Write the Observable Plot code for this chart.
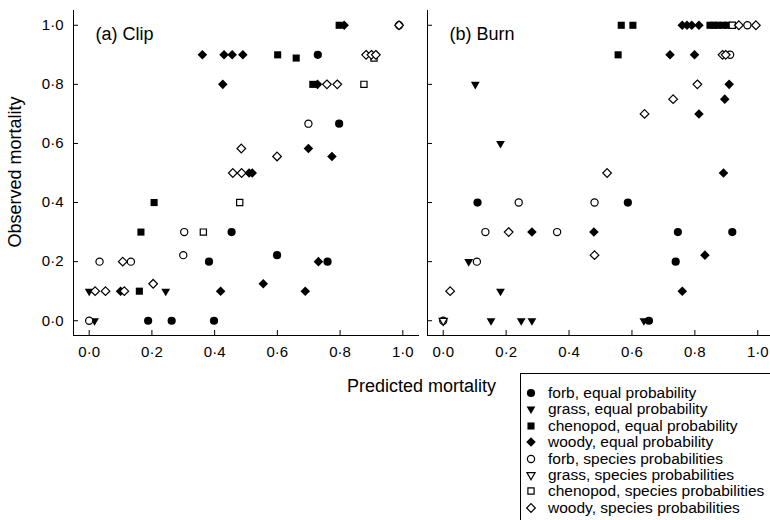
<!DOCTYPE html>
<html><head><meta charset="utf-8">
<script src="https://cdn.jsdelivr.net/npm/d3@7"></script>
<script src="https://cdn.jsdelivr.net/npm/@observablehq/plot@0.6"></script>
<style>
html,body{margin:0;padding:0;background:#fff;overflow:hidden;}
#wrap{position:relative;width:770px;height:520px;font-family:Arial,"Liberation Sans",sans-serif;color:#000;}
#wrap svg.plot{position:absolute;top:0;}
.title{position:absolute;font-size:18px;line-height:18px;white-space:nowrap;}
#legend{position:absolute;left:520px;top:373px;width:260px;height:160px;border:1px solid #000;box-sizing:border-box;}
.row{position:absolute;left:0;height:16px;font-size:15.5px;line-height:16px;white-space:nowrap;}
.row svg{position:absolute;left:2px;top:0;}
.row span{position:absolute;left:27px;top:0;}
</style></head><body><div id="wrap"></div>
<script>
// ---- tick values / labels ----
const tickValues = [0, 0.2, 0.4, 0.6, 0.8, 1.0];
const panelTitles = ["(a) Clip", "(b) Burn"];
const xTitle = "Predicted mortality";
const yTitle = "Observed mortality";
const seriesLabels = [
  "forb, equal probability",
  "grass, equal probability",
  "chenopod, equal probability",
  "woody, equal probability",
  "forb, species probabilities",
  "grass, species probabilities",
  "chenopod, species probabilities",
  "woody, species probabilities"
];

// ---- (a) Clip : [predicted, observed] ----
const clipForbEqual = [[0.188,0],[0.263,0],[0.398,0],[0.382,0.2],[0.599,0.222],[0.76,0.2],[0.454,0.3],[0.797,0.667],[0.729,0.9]];
const clipGrassEqual = [[0.0,0.1],[0.244,0.1],[0.017,0.0]];
const clipChenopodEqual = [[0.16,0.1],[0.165,0.3],[0.207,0.4],[0.713,0.8],[0.601,0.9],[0.66,0.889],[0.797,1.0]];
const clipWoodyEqual = [[0.1,0.1],[0.419,0.1],[0.689,0.1],[0.555,0.125],[0.731,0.2],[0.51,0.5],[0.52,0.5],[0.699,0.583],[0.774,0.556],[0.426,0.8],[0.728,0.8],[0.361,0.9],[0.43,0.9],[0.456,0.9],[0.49,0.9],[0.813,1.0]];
const clipForbSpecies = [[0.0,0.0],[0.033,0.2],[0.133,0.2],[0.3,0.222],[0.303,0.3],[0.699,0.667],[0.988,1.0]];
const clipGrassSpecies = [];
const clipChenopodSpecies = [[0.364,0.3],[0.48,0.4],[0.876,0.8],[0.908,0.889]];
const clipWoodySpecies = [[0.019,0.1],[0.052,0.1],[0.112,0.1],[0.204,0.125],[0.107,0.2],[0.458,0.5],[0.486,0.5],[0.485,0.583],[0.599,0.556],[0.758,0.8],[0.791,0.8],[0.883,0.9],[0.9,0.9],[0.914,0.9],[0.988,1.0]];

// ---- (b) Burn : [predicted, observed] ----
const burnForbEqual = [[0.654,0.0],[0.739,0.2],[0.746,0.3],[0.919,0.3],[0.109,0.4],[0.587,0.4]];
const burnGrassEqual = [[0.152,0],[0.248,0],[0.282,0],[0.638,0],[0.182,0.1],[0.081,0.2],[0.182,0.6],[0.102,0.8]];
const burnChenopodEqual = [[0.556,0.9],[0.566,1.0],[0.603,1.0],[0.848,1.0],[0.86,1.0],[0.873,1.0],[0.889,1.0],[0.903,1.0]];
const burnWoodyEqual = [[0.76,0.1],[0.832,0.222],[0.282,0.3],[0.479,0.3],[0.891,0.5],[0.813,0.7],[0.895,0.75],[0.909,0.8],[0.721,0.9],[0.799,0.9],[0.76,1.0],[0.775,1.0],[0.79,1.0],[0.813,1.0]];
const burnForbSpecies = [[0.0,0.0],[0.107,0.2],[0.134,0.3],[0.362,0.3],[0.24,0.4],[0.481,0.4],[0.912,0.9],[0.967,1.0]];
const burnGrassSpecies = [[0.0,0.0]];
const burnChenopodSpecies = [[0.919,1.0]];
const burnWoodySpecies = [[0.022,0.1],[0.481,0.222],[0.208,0.3],[0.521,0.5],[0.64,0.7],[0.731,0.75],[0.808,0.8],[0.888,0.9],[0.898,0.9],[0.94,1.0],[0.994,1.0]];

const clipSeries = [clipForbEqual, clipGrassEqual, clipChenopodEqual, clipWoodyEqual, clipForbSpecies, clipGrassSpecies, clipChenopodSpecies, clipWoodySpecies];
const burnSeries = [burnForbEqual, burnGrassEqual, burnChenopodEqual, burnWoodyEqual, burnForbSpecies, burnGrassSpecies, burnChenopodSpecies, burnWoodySpecies];

// ---- symbols ----
const triangleDown = {
  draw(ctx, size) {
    const s = Math.sqrt(size) * 0.6824, t = s / 2, u = s * Math.sqrt(3) / 2;
    ctx.moveTo(0, s); ctx.lineTo(u, -t); ctx.lineTo(-u, -t); ctx.closePath();
  }
};
const shapeTypes = [d3.symbolCircle, triangleDown, d3.symbolSquare, d3.symbolDiamond2];
const shapeR = [4.1, 4.2, 4.0, 4.3];
const shapeROpen = [3.6, 3.9, 3.5, 3.9];

const fmt = d => d3.format(".1f")(d).replace(".", "\u00b7");
const FONT = "Arial, 'Liberation Sans', sans-serif";

function makePanel(series, title, showYLabels, width, marginLeft, marginRight) {
  const marks = [];
  // inward tick stubs
  marks.push(Plot.ruleX(tickValues, {x: d => d, insetTop: 320, stroke: "#000", strokeWidth: 1}));
  marks.push(Plot.ruleY(tickValues, {y: d => d, insetRight: width - marginLeft - marginRight - 5, stroke: "#000", strokeWidth: 1}));
  series.forEach((data, i) => {
    const k = i % 4, filled = i < 4;
    marks.push(Plot.dot(data, {
      x: d => d[0], y: d => d[1],
      symbol: shapeTypes[k],
      r: filled ? shapeR[k] : shapeROpen[k],
      fill: filled ? "#000" : "#fff",
      stroke: filled ? "none" : "#000",
      strokeWidth: 1.2
    }));
  });
  marks.push(Plot.text([title], {text: d => d, frameAnchor: "top-left", textAnchor: "start", lineAnchor: "middle", dx: 22, dy: 24, fontSize: 18}));
  return Plot.plot({
    width, height: 360,
    marginLeft, marginRight, marginTop: 10, marginBottom: 25,
    style: {fontFamily: FONT, fontSize: "15px", background: "transparent", color: "#000", overflow: "visible"},
    x: {domain: [-0.05, 1.05], ticks: tickValues, tickFormat: fmt, tickSize: 0, tickPadding: 11, line: true, label: null},
    y: {domain: [-0.05, 1.05], ticks: tickValues, tickFormat: showYLabels ? fmt : () => "", tickSize: 0, tickPadding: 10, line: true, label: null},
    marks
  });
}

const wrap = document.getElementById("wrap");
const pa = makePanel(clipSeries, panelTitles[0], true, 420, 73, 2);
pa.classList.add("plot"); pa.style.left = "0px";
wrap.appendChild(pa);
const pb = makePanel(burnSeries, panelTitles[1], false, 353, 7, 0);
pb.classList.add("plot"); pb.style.left = "420px";
wrap.appendChild(pb);

// axis titles
const xt = document.createElement("div");
xt.className = "title"; xt.textContent = xTitle;
xt.style.left = "347px"; xt.style.top = "377px";
wrap.appendChild(xt);
const yt = document.createElement("div");
yt.className = "title"; yt.textContent = yTitle;
wrap.appendChild(yt);
const ytw = yt.getBoundingClientRect().width;
yt.style.left = (15 - ytw / 2) + "px"; yt.style.top = (172 - 9) + "px";
yt.style.transform = "rotate(-90deg)";

// legend
const lg = document.createElement("div");
lg.id = "legend";
wrap.appendChild(lg);
seriesLabels.forEach((label, i) => {
  const k = i % 4, filled = i < 4;
  const row = document.createElement("div");
  row.className = "row";
  row.style.top = (11 + i * 16.4) + "px";
  const r = filled ? shapeR[k] : shapeROpen[k];
  const path = d3.symbol().type(shapeTypes[k]).size(Math.PI * r * r)();
  row.innerHTML = `<svg width="16" height="16"><path transform="translate(8,8)" d="${path}" fill="${filled ? "#000" : "#fff"}" stroke="${filled ? "none" : "#000"}" stroke-width="1.2"/></svg><span></span>`;
  row.querySelector("span").textContent = label;
  lg.appendChild(row);
});
</script>
</body></html>
